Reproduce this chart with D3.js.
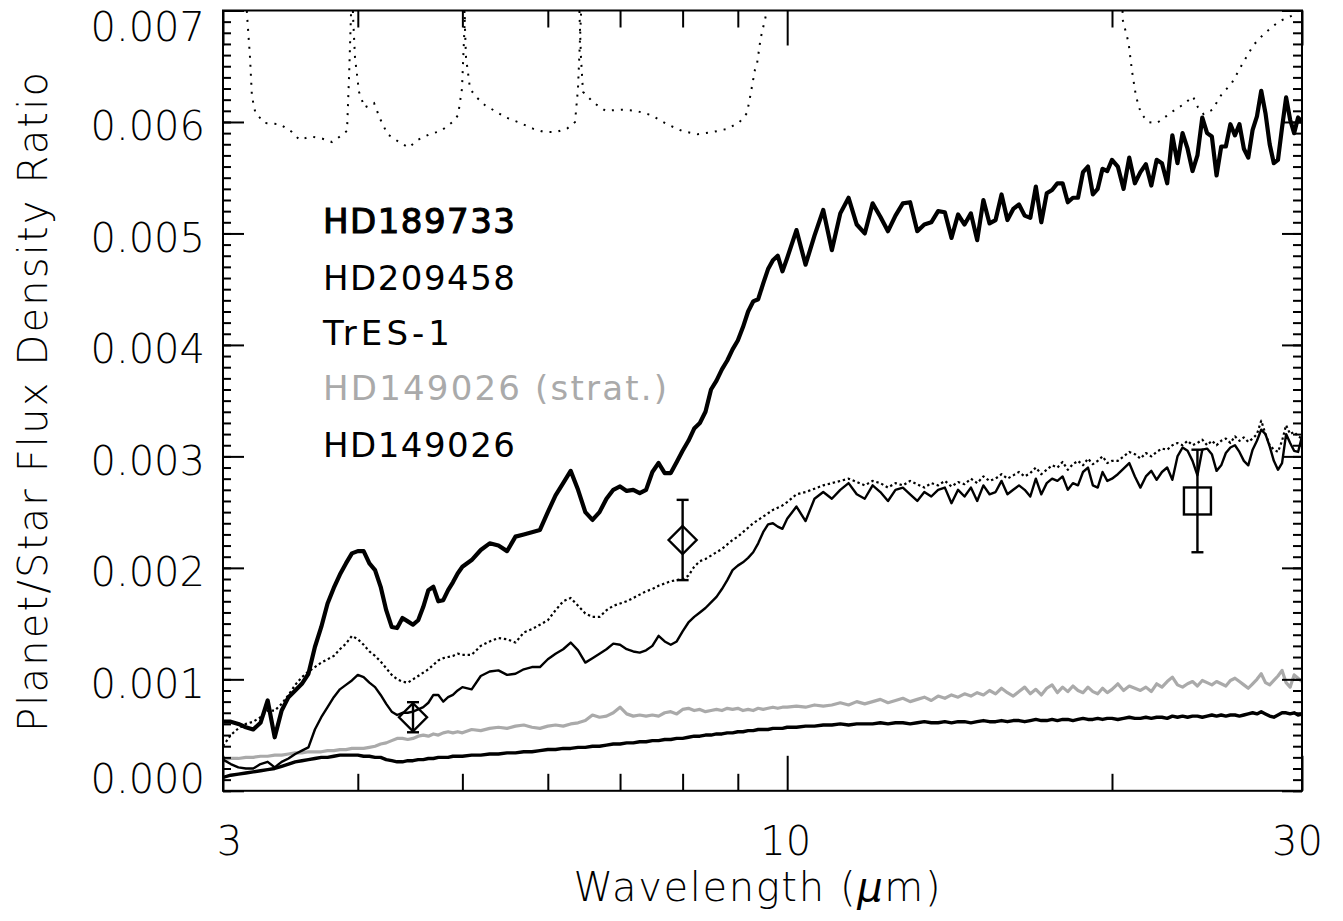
<!DOCTYPE html>
<html>
<head>
<meta charset="utf-8">
<script src="https://cdn.jsdelivr.net/npm/d3@7"></script>
<style>
  html, body { margin: 0; padding: 0; background: #fff; }
  svg { display: block; }
  text { font-family: "DejaVu Sans", sans-serif; }
</style>
</head>
<body>
<svg id="chart" width="1343" height="921"></svg>
<script>
// ---------------------------------------------------------------
// Planet/star flux density ratio spectra (values in units of 1e-3)
// ---------------------------------------------------------------

// Common wavelength grid, micrometres
const wavelength = [
  3.00,3.05,3.10,3.15,3.20,3.25,3.30,3.35,3.40,3.45,
  3.50,3.55,3.60,3.65,3.70,3.75,3.80,3.85,3.90,3.95,
  4.00,4.05,4.10,4.15,4.20,4.25,4.30,4.35,4.40,4.45,
  4.50,4.55,4.60,4.65,4.70,4.75,4.80,4.85,4.90,4.95,
  5.00,
  5.1,5.2,5.3,5.4,5.5,5.6,5.7,5.8,5.9,6.0,
  6.1,6.2,6.3,6.4,6.5,6.6,6.7,6.8,6.9,7.0,
  7.1,7.2,7.3,7.4,7.5,7.6,7.7,7.8,7.9,8.0,
  8.1,8.2,8.3,8.4,8.5,8.6,8.7,8.8,8.9,9.0,
  9.1,9.2,9.3,9.4,9.5,9.6,9.7,9.8,9.9,10.0,
  10.2,10.4,10.6,10.8,11.0,11.2,11.4,11.6,11.8,12.0,
  12.2,12.4,12.6,12.8,13.0,13.2,13.4,13.6,13.8,14.0,
  14.2,14.4,14.6,14.8,15.0,15.2,15.4,15.6,15.8,16.0,
  16.2,16.4,16.6,16.8,17.0,17.2,17.4,17.6,17.8,18.0,
  18.2,18.4,18.6,18.8,19.0,19.2,19.4,19.6,19.8,20.0,
  20.25,20.5,20.75,21.0,21.25,21.5,21.75,22.0,22.25,22.5,
  22.75,23.0,23.25,23.5,23.75,24.0,24.25,24.5,24.75,25.0,
  25.25,25.5,25.75,26.0,26.25,26.5,26.75,27.0,27.25,27.5,
  27.75,28.0,28.25,28.5,28.75,29.0,29.25,29.5,29.75,30.0
];

const hd189733 = [
  0.62,0.62,0.60,0.57,0.55,0.61,0.81,0.48,0.72,0.84,
  0.90,0.96,1.05,1.29,1.47,1.68,1.82,1.94,2.04,2.13,
  2.15,2.15,2.04,1.98,1.83,1.62,1.47,1.46,1.55,1.52,
  1.49,1.53,1.65,1.80,1.83,1.70,1.71,1.80,1.87,1.95,
  2.01,
  2.07,2.16,2.22,2.20,2.15,2.28,2.30,2.32,2.34,2.50,
  2.65,2.76,2.87,2.70,2.50,2.43,2.50,2.62,2.70,2.73,
  2.69,2.70,2.67,2.70,2.86,2.94,2.85,2.85,2.95,3.05,
  3.14,3.25,3.30,3.40,3.60,3.68,3.78,3.86,3.96,4.04,
  4.16,4.30,4.39,4.41,4.55,4.68,4.76,4.80,4.66,4.78,
  5.03,4.72,4.98,5.21,4.85,5.18,5.32,5.08,5.00,5.27,
  5.15,5.02,5.16,5.27,5.28,5.02,5.08,5.10,5.20,5.19,
  4.96,5.17,5.08,5.18,4.94,5.30,5.09,5.12,5.35,5.12,
  5.22,5.26,5.16,5.14,5.42,5.10,5.36,5.39,5.45,5.45,
  5.28,5.32,5.32,5.55,5.60,5.35,5.40,5.58,5.56,5.66,
  5.60,5.40,5.68,5.45,5.55,5.62,5.43,5.66,5.63,5.45,
  5.88,5.63,5.90,5.76,5.56,5.70,6.04,5.90,5.87,5.52,
  5.78,5.78,5.98,5.88,5.98,5.76,5.68,5.93,6.05,6.28,
  6.08,5.80,5.63,5.66,5.95,6.22,6.02,5.90,6.04,6.00
];

const hd209458 = [
  0.40,0.50,0.56,0.60,0.62,0.66,0.72,0.72,0.78,0.86,
  0.95,1.02,1.07,1.11,1.15,1.18,1.21,1.27,1.32,1.39,
  1.36,1.31,1.25,1.21,1.16,1.10,1.04,1.00,0.98,0.97,
  1.00,1.03,1.06,1.09,1.13,1.17,1.19,1.20,1.21,1.23,
  1.22,
  1.22,1.30,1.34,1.37,1.36,1.33,1.42,1.45,1.49,1.53,
  1.62,1.70,1.73,1.66,1.59,1.56,1.56,1.62,1.66,1.68,
  1.70,1.73,1.76,1.79,1.81,1.84,1.86,1.88,1.89,1.90,
  1.93,2.01,2.06,2.08,2.11,2.14,2.17,2.21,2.25,2.28,
  2.32,2.36,2.40,2.43,2.46,2.49,2.52,2.54,2.56,2.59,
  2.66,2.68,2.71,2.74,2.76,2.78,2.80,2.77,2.74,2.78,
  2.76,2.72,2.76,2.74,2.78,2.75,2.72,2.76,2.74,2.78,
  2.73,2.77,2.75,2.80,2.76,2.82,2.78,2.80,2.84,2.80,
  2.83,2.86,2.82,2.85,2.90,2.84,2.88,2.92,2.90,2.95,
  2.88,2.93,2.96,2.92,2.98,2.93,2.96,3.00,2.94,2.96,
  2.96,3.00,3.04,3.02,2.98,3.03,3.00,3.04,3.07,3.06,
  3.10,3.12,3.10,3.14,3.10,3.12,3.15,3.10,3.14,3.10,
  3.14,3.16,3.12,3.18,3.14,3.17,3.13,3.16,3.20,3.32,
  3.20,3.10,3.06,3.04,3.14,3.28,3.20,3.22,3.18,3.16
];

const tres1 = [
  0.28,0.24,0.21,0.20,0.20,0.24,0.26,0.21,0.26,0.29,
  0.33,0.36,0.39,0.55,0.66,0.75,0.84,0.91,0.95,0.99,
  1.04,1.02,0.97,0.93,0.86,0.78,0.71,0.68,0.70,0.70,
  0.71,0.73,0.75,0.79,0.86,0.86,0.80,0.84,0.86,0.90,
  0.93,
  0.91,1.03,1.07,1.08,1.04,1.05,1.09,1.11,1.11,1.18,
  1.23,1.27,1.33,1.26,1.15,1.19,1.23,1.27,1.32,1.31,
  1.27,1.25,1.24,1.26,1.30,1.39,1.34,1.31,1.34,1.43,
  1.51,1.56,1.60,1.64,1.69,1.74,1.81,1.89,1.98,2.02,
  2.05,2.09,2.14,2.22,2.32,2.39,2.40,2.37,2.35,2.44,
  2.55,2.42,2.62,2.68,2.62,2.70,2.76,2.66,2.62,2.74,
  2.68,2.60,2.70,2.72,2.66,2.60,2.68,2.64,2.70,2.72,
  2.58,2.70,2.64,2.72,2.60,2.74,2.66,2.68,2.78,2.66,
  2.70,2.74,2.70,2.64,2.80,2.66,2.76,2.80,2.78,2.82,
  2.70,2.76,2.74,2.86,2.90,2.74,2.72,2.86,2.78,2.80,
  2.84,2.89,2.94,2.82,2.72,2.82,2.87,2.79,2.86,2.90,
  2.79,3.00,3.08,3.05,2.96,2.83,3.06,3.07,3.02,2.87,
  2.92,3.03,3.08,3.10,3.04,2.96,2.92,3.06,3.14,3.24,
  3.20,3.09,2.96,2.88,2.94,3.20,3.12,3.05,3.04,3.18
];

const hd149026Strat = [
  0.28,0.29,0.29,0.30,0.30,0.31,0.31,0.32,0.32,0.33,
  0.34,0.34,0.35,0.35,0.35,0.36,0.36,0.37,0.37,0.38,
  0.38,0.38,0.39,0.40,0.42,0.43,0.45,0.47,0.47,0.46,
  0.47,0.49,0.50,0.49,0.51,0.50,0.52,0.53,0.52,0.53,
  0.52,
  0.55,0.54,0.56,0.57,0.56,0.58,0.59,0.57,0.56,0.58,
  0.59,0.58,0.60,0.61,0.63,0.68,0.66,0.67,0.70,0.75,
  0.69,0.67,0.68,0.67,0.68,0.67,0.70,0.71,0.69,0.73,
  0.74,0.72,0.73,0.71,0.72,0.73,0.72,0.74,0.73,0.74,
  0.72,0.73,0.72,0.74,0.73,0.74,0.75,0.74,0.75,0.75,
  0.76,0.75,0.77,0.76,0.77,0.79,0.77,0.80,0.78,0.80,
  0.82,0.79,0.81,0.83,0.80,0.82,0.84,0.81,0.85,0.83,
  0.86,0.84,0.87,0.85,0.88,0.86,0.90,0.87,0.92,0.88,
  0.85,0.89,0.93,0.87,0.91,0.86,0.92,0.95,0.88,0.93,
  0.89,0.94,0.90,0.88,0.93,0.89,0.87,0.92,0.88,0.91,
  0.96,0.90,0.94,0.92,0.90,0.93,0.89,0.96,0.93,0.98,
  1.02,0.95,0.93,0.96,0.98,0.94,0.99,0.97,0.95,0.98,
  0.96,0.94,0.99,1.01,0.98,0.95,0.92,0.96,1.00,1.05,
  0.97,0.95,0.99,1.03,1.08,0.97,0.93,1.04,1.01,0.98
];

const hd149026 = [
  0.12,0.14,0.15,0.16,0.17,0.18,0.19,0.20,0.22,0.24,
  0.26,0.27,0.28,0.29,0.30,0.30,0.31,0.32,0.32,0.32,
  0.32,0.31,0.31,0.30,0.30,0.28,0.27,0.26,0.26,0.27,
  0.27,0.28,0.28,0.29,0.29,0.30,0.30,0.30,0.31,0.31,
  0.31,
  0.32,0.32,0.33,0.33,0.34,0.34,0.35,0.35,0.36,0.37,
  0.37,0.38,0.38,0.39,0.39,0.40,0.40,0.41,0.42,0.42,
  0.43,0.43,0.44,0.44,0.45,0.45,0.46,0.46,0.47,0.47,
  0.48,0.49,0.49,0.50,0.50,0.51,0.51,0.52,0.52,0.53,
  0.53,0.54,0.54,0.55,0.55,0.55,0.56,0.56,0.56,0.57,
  0.57,0.58,0.58,0.59,0.59,0.60,0.59,0.60,0.60,0.60,
  0.61,0.60,0.61,0.61,0.60,0.61,0.62,0.61,0.61,0.62,
  0.61,0.62,0.62,0.61,0.62,0.63,0.62,0.62,0.63,0.62,
  0.63,0.63,0.62,0.63,0.64,0.63,0.63,0.64,0.63,0.64,
  0.64,0.63,0.64,0.65,0.64,0.64,0.65,0.64,0.65,0.65,
  0.64,0.65,0.66,0.65,0.65,0.66,0.65,0.66,0.66,0.65,
  0.67,0.66,0.67,0.66,0.67,0.67,0.66,0.67,0.68,0.67,
  0.68,0.67,0.68,0.68,0.67,0.68,0.69,0.70,0.69,0.71,
  0.69,0.67,0.66,0.68,0.70,0.70,0.69,0.70,0.68,0.69
];

// Scaled filter bandpass profiles (drawn dotted along the top; they run off the frame)
const band36Wave = [3.144,3.158,3.178,3.191,3.215,3.281,3.388,3.476,3.532,3.620,3.710,3.785,3.864,3.909,3.926,3.942,3.951];
const band36Val  = [7.40,6.96,6.58,6.23,6.08,5.99,5.98,5.91,5.84,5.87,5.85,5.82,5.88,5.92,6.41,6.96,7.40];
const band45Wave = [3.955,3.959,3.976,4.010,4.058,4.141,4.194,4.262,4.368,4.458,4.548,4.662,4.777,4.897,4.954,4.996,5.018,5.028,5.033];
const band45Val  = [7.40,6.96,6.58,6.27,6.13,6.17,6.03,5.89,5.82,5.77,5.84,5.89,5.92,6.00,6.06,6.30,6.75,6.96,7.40];
const band58Wave = [5.012,5.023,5.039,5.082,5.142,5.248,5.357,5.488,5.626,5.814,5.952,6.106,6.251,6.359,6.399,6.427,6.440,6.447];
const band58Val  = [7.40,6.96,6.58,6.30,6.23,6.15,6.10,6.04,6.00,5.94,5.91,5.91,5.94,6.00,6.30,6.75,6.96,7.40];
const band80Wave = [6.406,6.420,6.440,6.468,6.622,6.787,7.014,7.242,7.487,7.738,7.990,8.258,8.536,8.814,9.035,9.179,9.257,9.336,9.376,9.449,9.558,9.599];
const band80Val  = [7.40,6.96,6.58,6.27,6.17,6.10,6.11,6.10,6.06,5.98,5.92,5.89,5.91,5.94,6.00,6.08,6.27,6.47,6.52,6.75,6.96,7.40];
const band24Wave = [20.39,20.47,20.72,20.87,21.05,21.27,21.59,22.01,22.44,22.88,23.32,23.77,24.03,24.32,24.78,25.24,25.83,26.45,27.05,27.66,28.54,29.30,30.0];
const band24Val  = [7.40,6.91,6.71,6.46,6.23,6.08,6.00,5.99,6.05,6.11,6.16,6.23,6.13,6.07,6.11,6.24,6.35,6.53,6.69,6.79,6.90,6.95,7.02];

// Photometric measurements with 1-sigma errors
const photWave  = [4.5, 8.0, 24.0];
const photValue = [0.66, 2.25, 2.60];
const photError = [0.135, 0.36, 0.46];
const photMarker = ["diamond", "diamond", "square"];

// Axis ticks
const xMajorTicks = [3, 10, 30];
const xMinorTicks = [4, 5, 6, 7, 8, 9, 20];
const yMajorTicks = [0, 0.001, 0.002, 0.003, 0.004, 0.005, 0.006, 0.007];

// Legend entries
const legendNames = ["HD189733", "HD209458", "TrES-1", "HD149026 (strat.)", "HD149026"];

// ---------------------------------------------------------------
const UNIT = 1e-3;
const frame = { left: 223, right: 1302, top: 10.5, bottom: 790.8 };
const GREY = "#aaaaaa";

const svg = d3.select("#chart");

const x = d3.scaleLog().domain([3, 30]).range([frame.left, frame.right]);
const y = d3.scaleLinear().domain([0, 0.007]).range([frame.bottom, frame.top]);

svg.append("defs").append("clipPath").attr("id", "plot-area")
  .append("rect")
  .attr("x", frame.left).attr("y", frame.top)
  .attr("width", frame.right - frame.left)
  .attr("height", frame.bottom - frame.top);

const plot = svg.append("g").attr("clip-path", "url(#plot-area)");

const line = d3.line()
  .x(d => x(d[0]))
  .y(d => y(d[1] * UNIT));

// Filter profiles
[[band36Wave, band36Val], [band45Wave, band45Val], [band58Wave, band58Val],
 [band80Wave, band80Val], [band24Wave, band24Val]].forEach(([w, v]) => {
  plot.append("path")
    .datum(d3.zip(w, v))
    .attr("d", line)
    .attr("fill", "none")
    .attr("stroke", "#000")
    .attr("stroke-width", 2)
    .attr("stroke-dasharray", "2,7");
});

// Model spectra
const spectra = [
  { values: hd149026Strat, color: GREY, width: 3.2, dash: null },
  { values: hd149026,      color: "#000", width: 3.4, dash: null },
  { values: tres1,         color: "#000", width: 2.4, dash: null },
  { values: hd209458,      color: "#000", width: 2.2, dash: "2.4,2.8" },
  { values: hd189733,      color: "#000", width: 4.2, dash: null }
];

spectra.forEach(s => {
  plot.append("path")
    .datum(d3.zip(wavelength, s.values))
    .attr("d", line)
    .attr("fill", "none")
    .attr("stroke", s.color)
    .attr("stroke-width", s.width)
    .attr("stroke-linejoin", "round")
    .attr("stroke-dasharray", s.dash);
});

// Photometry with error bars
const phot = d3.range(photWave.length).map(i => ({
  w: photWave[i], v: photValue[i] * UNIT, e: photError[i] * UNIT, m: photMarker[i]
}));

const pg = svg.append("g").attr("stroke", "#000").attr("stroke-width", 2.4).attr("fill", "none");
const CAP = 6, DIA = 14, SQ = 13.5;
phot.forEach(p => {
  const cx = x(p.w), cy = y(p.v), top = y(p.v + p.e), bot = y(p.v - p.e);
  pg.append("line").attr("x1", cx).attr("x2", cx).attr("y1", top).attr("y2", bot);
  pg.append("line").attr("x1", cx - CAP).attr("x2", cx + CAP).attr("y1", top).attr("y2", top);
  pg.append("line").attr("x1", cx - CAP).attr("x2", cx + CAP).attr("y1", bot).attr("y2", bot);
  if (p.m === "diamond") {
    pg.append("path").attr("d",
      `M${cx},${cy - DIA}L${cx + DIA},${cy}L${cx},${cy + DIA}L${cx - DIA},${cy}Z`);
  } else {
    pg.append("rect").attr("x", cx - SQ).attr("y", cy - SQ)
      .attr("width", 2 * SQ).attr("height", 2 * SQ);
  }
});

// Frame
svg.append("rect")
  .attr("x", frame.left).attr("y", frame.top)
  .attr("width", frame.right - frame.left)
  .attr("height", frame.bottom - frame.top)
  .attr("fill", "none").attr("stroke", "#000").attr("stroke-width", 2);

// Axes
function styleAxis(g) {
  g.select(".domain").remove();
  g.attr("font-family", null).attr("font-size", null);
  g.selectAll(".tick line").attr("stroke", "#000").attr("stroke-width", 2);
  g.selectAll(".tick text")
    .attr("fill", "#000")
    .style("font-family", "'DejaVu Sans', sans-serif")
    .style("font-size", "40px")
    .style("font-weight", 200);
}

const yMinorTicks = d3.range(0, 71).map(i => i / 10000);

svg.append("g").attr("transform", `translate(0,${frame.bottom})`)
  .call(d3.axisBottom(x).tickValues(xMinorTicks).tickSize(-17).tickFormat(""))
  .call(styleAxis);
const xAxisG = svg.append("g").attr("transform", `translate(0,${frame.bottom})`)
  .call(d3.axisBottom(x).tickValues(xMajorTicks).tickSize(-35).tickPadding(36).tickFormat(d3.format("d")))
  .call(styleAxis);
// end labels sit slightly inside the frame
xAxisG.selectAll(".tick text").attr("dx", d => d === 3 ? 6 : d === 30 ? -5 : -2);

svg.append("g").attr("transform", `translate(0,${frame.top})`)
  .call(d3.axisTop(x).tickValues(xMinorTicks).tickSize(-17).tickFormat(""))
  .call(styleAxis);
svg.append("g").attr("transform", `translate(0,${frame.top})`)
  .call(d3.axisTop(x).tickValues(xMajorTicks).tickSize(-35).tickFormat(""))
  .call(styleAxis);

svg.append("g").attr("transform", `translate(${frame.left},0)`)
  .call(d3.axisLeft(y).tickValues(yMinorTicks).tickSize(-8).tickFormat(""))
  .call(styleAxis);
const yAxisG = svg.append("g").attr("transform", `translate(${frame.left},0)`)
  .call(d3.axisLeft(y).tickValues(yMajorTicks).tickSize(-21).tickPadding(18).tickFormat(d3.format(".3f")))
  .call(styleAxis);
// first and last labels are kept inside the vertical extent of the frame
yAxisG.selectAll(".tick text")
  .attr("dy", null)
  .attr("y", d => d === 0 ? 1.5 : d === 0.007 ? 29.5 : 18);

svg.append("g").attr("transform", `translate(${frame.right},0)`)
  .call(d3.axisRight(y).tickValues(yMinorTicks).tickSize(-9).tickFormat(""))
  .call(styleAxis);
svg.append("g").attr("transform", `translate(${frame.right},0)`)
  .call(d3.axisRight(y).tickValues(yMajorTicks).tickSize(-20).tickFormat(""))
  .call(styleAxis);

// Axis titles
const xTitle = svg.append("text")
  .attr("x", 757).attr("y", 901)
  .attr("text-anchor", "middle")
  .attr("textLength", 367).attr("lengthAdjust", "spacing")
  .style("font-size", "40px").style("font-weight", 200).attr("fill", "#000");
xTitle.append("tspan").text("Wavelength (");
xTitle.append("tspan").style("font-style", "italic").text("\u03bc");
xTitle.append("tspan").text("m)");

svg.append("text")
  .attr("transform", "translate(47,402) rotate(-90)")
  .attr("text-anchor", "middle")
  .attr("textLength", 660).attr("lengthAdjust", "spacing")
  .style("font-size", "40px").style("font-weight", 200).attr("fill", "#000")
  .text("Planet/Star Flux Density Ratio");

// Legend
const legendStyle = [
  { color: "#000", stroke: 1.1, len: 192 },
  { color: "#000", stroke: 0,   len: 192 },
  { color: "#000", stroke: 0,   len: 127 },
  { color: GREY,  stroke: 0,   len: 344 },
  { color: "#000", stroke: 0,   len: 192 }
];
const legendBase = [233, 290, 345, 400, 457];
legendNames.forEach((name, i) => {
  const st = legendStyle[i];
  svg.append("text")
    .attr("x", 323).attr("y", legendBase[i])
    .attr("textLength", st.len).attr("lengthAdjust", "spacing")
    .style("font-size", "34px")
    .attr("fill", st.color)
    .attr("stroke", st.stroke ? st.color : null)
    .attr("stroke-width", st.stroke || null)
    .text(name);
});
</script>
</body>
</html>
